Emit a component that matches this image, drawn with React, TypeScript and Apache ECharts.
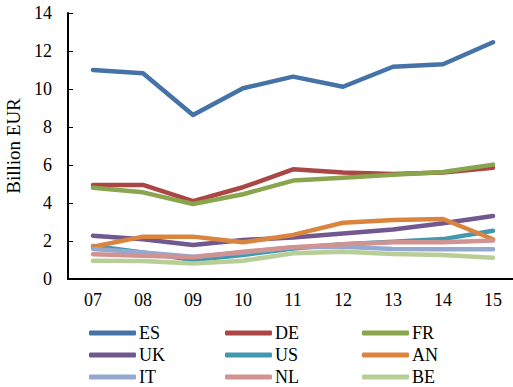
import React, { useEffect, useRef } from "react";
import * as echarts from "echarts";

const years = ["07", "08", "09", "10", "11", "12", "13", "14", "15"];
const ES = [11.0, 10.83, 8.63, 10.04, 10.65, 10.12, 11.17, 11.3, 12.46];
const DE = [4.95, 4.95, 4.1, 4.83, 5.77, 5.6, 5.53, 5.6, 5.86];
const FR = [4.8, 4.56, 3.95, 4.46, 5.18, 5.33, 5.49, 5.63, 6.02];
const UK = [2.28, 2.09, 1.79, 2.05, 2.19, 2.4, 2.61, 2.93, 3.32];
const US = [1.74, 1.39, 1.0, 1.26, 1.61, 1.83, 1.96, 2.1, 2.54];
const AN = [1.7, 2.23, 2.23, 1.93, 2.32, 2.96, 3.1, 3.16, 2.09];
const IT = [1.58, 1.4, 1.17, 1.4, 1.67, 1.7, 1.58, 1.56, 1.56];
const NL = [1.3, 1.23, 1.14, 1.44, 1.67, 1.83, 1.93, 1.93, 2.02];
const BE = [0.96, 0.95, 0.82, 0.96, 1.35, 1.44, 1.32, 1.26, 1.12];

const seriesNames = ["ES", "DE", "FR", "UK", "US", "AN", "IT", "NL", "BE"];
const seriesData = [ES, DE, FR, UK, US, AN, IT, NL, BE];
const colors = ["#4572A7", "#AA4643", "#89A54E", "#71588F", "#4198AF", "#DB843D", "#93A9CF", "#D19392", "#B9CD96"];
const yTicks = { min: 0, max: 14, interval: 2 };

const FONT = "'Liberation Serif', 'Times New Roman', serif";

export default function App() {
  const ref = useRef<HTMLDivElement>(null);
  useEffect(() => {
    document.body.style.margin = "0";
    const chart = echarts.init(ref.current!, undefined, { renderer: "svg" });
    const colLefts = [89, 225, 362];
    const rowCenters = [333, 355, 377];
    chart.setOption({
      animation: false,
      color: colors,
      textStyle: { fontFamily: FONT },
      grid: { left: 68, top: 13, width: 450, height: 266, containLabel: false, outerBoundsMode: "none" },
      legend: seriesNames.map((n, i) => ({
        data: [n],
        orient: "horizontal",
        left: colLefts[i % 3],
        top: rowCenters[Math.floor(i / 3)] - 9,
        padding: 0,
        icon: "roundRect",
        itemWidth: 47,
        itemHeight: 5,
        itemGap: 0,
        textStyle: { fontFamily: FONT, fontSize: 18, lineHeight: 18, color: "#000", padding: [0, 0, 0, -2] },
      })),
      xAxis: {
        type: "category",
        data: years,
        boundaryGap: true,
        axisLine: { lineStyle: { color: "#000", width: 2 } },
        axisTick: { inside: true, length: 5, lineStyle: { color: "#000", width: 1 } },
        axisLabel: { color: "#000", fontFamily: FONT, fontSize: 18, margin: 12 },
      },
      yAxis: {
        type: "value",
        min: yTicks.min,
        max: yTicks.max,
        interval: yTicks.interval,
        name: "Billion EUR",
        nameLocation: "middle",
        nameRotate: 90,
        nameGap: 42,
        nameTextStyle: { color: "#000", fontFamily: FONT, fontSize: 19 },
        splitLine: { show: false },
        axisLine: { show: true, lineStyle: { color: "#000", width: 2 } },
        axisTick: { show: true, inside: true, length: 5, lineStyle: { color: "#000", width: 1 } },
        axisLabel: { color: "#000", fontFamily: FONT, fontSize: 18, margin: 16 },
      },
      series: seriesNames.map((n, i) => ({
        name: n,
        type: "line",
        data: seriesData[i],
        symbol: "none",
        lineStyle: { width: 4.5, color: colors[i], cap: "round", join: "round" },
        itemStyle: { color: colors[i] },
      })),
    });
    return () => chart.dispose();
  }, []);
  return <div ref={ref} style={{ width: 513, height: 387 }} />;
}
